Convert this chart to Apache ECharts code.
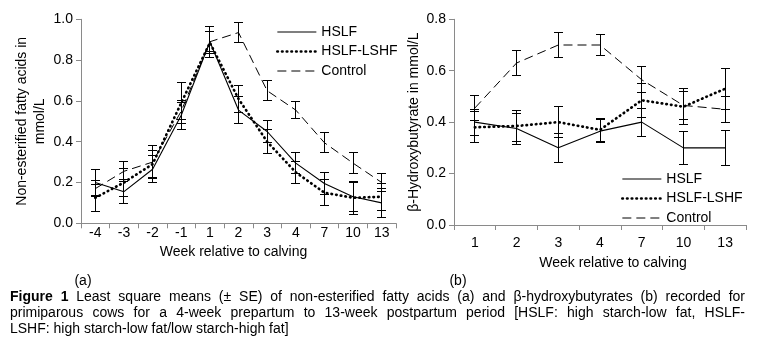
<!DOCTYPE html>
<html><head><meta charset="utf-8">
<script src="https://cdn.jsdelivr.net/npm/echarts@6/dist/echarts.min.js"></script>
<style>html,body{margin:0;padding:0;background:#fff}#c{width:759px;height:351px}</style>
</head><body><div id="c"></div>
<script>
// ---- data ----
const weeksA = ['-4','-3','-2','-1','1','2','3','4','7','10','13'];
const nefaHSLF    = [0.20, 0.155, 0.265, 0.53, 0.89, 0.555, 0.45, 0.295, 0.195, 0.13, 0.10];
const nefaHSLF_SE = [0.065,0.06, 0.065, 0.07, 0.075,0.065, 0.055,0.05,  0.055, 0.07, 0.07];
const nefaMix     = [0.125,0.20, 0.29,  0.59, 0.885,0.61,  0.40, 0.25,  0.15,  0.125,0.13];
const nefaMix_SE  = [0.065,0.07, 0.065, 0.10, 0.055,0.065, 0.06, 0.055, 0.065, 0.08, 0.065];
const nefaCtrl    = [0.17, 0.255,0.30,  0.55, 0.89, 0.935, 0.65, 0.555, 0.395, 0.295,0.20];
const nefaCtrl_SE = [0.04, 0.05, 0.08,  0.04, 0.05, 0.05,  0.05, 0.043, 0.05,  0.05, 0.045];

const weeksB = ['1','2','3','4','7','10','13'];
const bhbHSLF    = [0.40, 0.375,0.30, 0.365,0.40, 0.30, 0.30];
const bhbHSLF_SE = [0.05, 0.06, 0.055,0.045,0.055,0.063,0.067];
const bhbMix     = [0.38, 0.385,0.40, 0.37, 0.485,0.46, 0.53];
const bhbMix_SE  = [0.06, 0.06, 0.06, 0.045,0.065,0.07, 0.08];
const bhbCtrl    = [0.455,0.63, 0.70, 0.70, 0.565,0.465,0.45];
const bhbCtrl_SE = [0.05, 0.048,0.05, 0.042,0.05, 0.055,0.05];

const seriesNames = ['HSLF','HSLF-LSHF','Control'];
const yTicksA = [0, 0.2, 0.4, 0.6, 0.8, 1.0];
const yTicksB = [0, 0.2, 0.4, 0.6, 0.8];

const captionLines = [
  'Figure 1 Least square means (± SE) of non-esterified fatty acids (a) and β-hydroxybutyrates (b) recorded for',
  'primiparous cows for a 4-week prepartum to 13-week postpartum period [HSLF: high starch-low fat, HSLF-',
  'LSHF: high starch-low fat/low starch-high fat]'
];

// ---- styling ----
const FONT = '"Liberation Sans", Arial, sans-serif';
const FS = 14;
const AXC = '#8a8a8a';
const styles = [
  {type:'solid', width:1.1, color:'#000'},
  {type:[0.5,4.2], width:2.7, cap:'round', color:'#000'},
  {type:[9,5], width:1, color:'#000'}
];

function errData(vals, se){ return vals.map((v,i)=>[i, v-se[i], v+se[i]]); }
function snap(v){ return Math.round(v - 0.5) + 0.5; }
function errRender(params, api){
  const i = api.value(0), lo = api.value(1), hi = api.value(2);
  const p1 = api.coord([i, hi]), p2 = api.coord([i, lo]);
  const x = snap(p1[0]), yt = snap(p1[1]), yb = snap(p2[1]);
  const w = 4.5, st = {stroke:'#000', lineWidth:1};
  return {type:'group', children:[
    {type:'line', shape:{x1:x, y1:yt, x2:x, y2:yb}, style:st},
    {type:'line', shape:{x1:x-w, y1:yt, x2:x+w, y2:yt}, style:st},
    {type:'line', shape:{x1:x-w, y1:yb, x2:x+w, y2:yb}, style:st}
  ]};
}

const series = [];
const setsA = [[nefaHSLF,nefaHSLF_SE],[nefaMix,nefaMix_SE],[nefaCtrl,nefaCtrl_SE]];
const setsB = [[bhbHSLF,bhbHSLF_SE],[bhbMix,bhbMix_SE],[bhbCtrl,bhbCtrl_SE]];
[setsA, setsB].forEach((sets, g)=>{
  sets.forEach((s, k)=>{
    series.push({type:'line', name:seriesNames[k], xAxisIndex:g, yAxisIndex:g, data:s[0],
      symbol:'none', lineStyle:styles[k], itemStyle:{color:'#000'}, silent:true, animation:false, z:2});
    series.push({type:'custom', name:seriesNames[k]+' SE', xAxisIndex:g, yAxisIndex:g,
      data:errData(s[0], s[1]), renderItem:errRender, animation:false, z:3, silent:true});
  });
});

function xAxis(idx, data, labelMargin, nameGap, namePad){
  return {type:'category', gridIndex:idx, data:data, boundaryGap:true,
    axisLine:{lineStyle:{color:AXC, width:1}},
    axisTick:{show:true, length:5, lineStyle:{color:AXC}},
    axisLabel:{color:'#000', fontSize:FS, fontFamily:FONT, margin:labelMargin},
    name:'Week relative to calving', nameLocation:'middle', nameGap:nameGap,
    nameTextStyle:{color:'#000', fontSize:FS, fontFamily:FONT, padding:namePad}};
}
function yAxis(idx, max, name, nameGap, lh){
  return {type:'value', gridIndex:idx, min:0, max:max, interval:0.2,
    axisLine:{show:true, lineStyle:{color:AXC, width:1}},
    axisTick:{show:true, length:5, lineStyle:{color:AXC}},
    splitLine:{show:false},
    axisLabel:{color:'#000', fontSize:FS, fontFamily:FONT, margin:8, formatter:v=>v.toFixed(1)},
    name:name, nameLocation:'middle', nameGap:nameGap,
    nameTextStyle:{color:'#000', fontSize:FS, fontFamily:FONT, lineHeight:lh}};
}

// caption, justified word by word
const ctx = document.createElement('canvas').getContext('2d');
function wWidth(w, bold){ ctx.font = (bold?'bold ':'') + FS + 'px ' + FONT; return ctx.measureText(w).width; }
const graphics = [];
function addLine(text, y, justify, boldCount){
  const words = text.split(' ');
  const ws = words.map((w,i)=>wWidth(w, i<boldCount));
  const total = ws.reduce((a,b)=>a+b,0);
  const x0 = 10, x1 = 745;
  const gap = justify ? (x1-x0-total)/(words.length-1) : wWidth(' ', false);
  let x = x0;
  words.forEach((w,i)=>{
    graphics.push({type:'text', x:x, y:y, silent:true, style:{text:w, fill:'#000', fontSize:FS,
      fontFamily:FONT, fontWeight:i<boldCount?'bold':'normal', verticalAlign:'middle', align:'left'}});
    x += ws[i] + gap;
  });
}
addLine(captionLines[0], 297, true, 2);
addLine(captionLines[1], 313, true, 0);
addLine(captionLines[2], 329, false, 0);
graphics.push({type:'text', x:83, y:281, silent:true, style:{text:'(a)', fill:'#000', fontSize:FS, fontFamily:FONT, align:'center', verticalAlign:'middle'}});
graphics.push({type:'text', x:458, y:281, silent:true, style:{text:'(b)', fill:'#000', fontSize:FS, fontFamily:FONT, align:'center', verticalAlign:'middle'}});

const legendItems = seriesNames.map((n,k)=>({name:n, lineStyle:{width:styles[k].width, type:styles[k].type, color:'#000', cap:styles[k].cap||'butt'}}));
const legendBase = {data:legendItems, orient:'vertical', itemWidth:39, itemHeight:14, itemGap:5.5,
  textStyle:{color:'#000', fontSize:FS, fontFamily:FONT}, itemStyle:{opacity:0}, selectedMode:false};

const option = {
  animation:false,
  backgroundColor:'#fff',
  grid:[
    {left:81, top:19.3, width:315, height:204},
    {left:454, top:19.3, width:292, height:205.7}
  ],
  xAxis:[xAxis(0, weeksA, 3, 16, [0,10,0,0]), xAxis(1, weeksB, 11, 31, [0,0,0,26])],
  yAxis:[yAxis(0, 1.0, 'Non-esterified fatty acids in\nmmol/L', 25, 18), yAxis(1, 0.8, 'β-Hydroxybutyrate in mmol/L', 30, 16)],
  legend:[
    Object.assign({}, legendBase, {left:271, top:20}),
    Object.assign({}, legendBase, {left:616, top:167})
  ],
  series:series,
  graphic:graphics
};
const chart = echarts.init(document.getElementById('c'), null, {renderer:'canvas'});
chart.setOption(option);
</script></body></html>
